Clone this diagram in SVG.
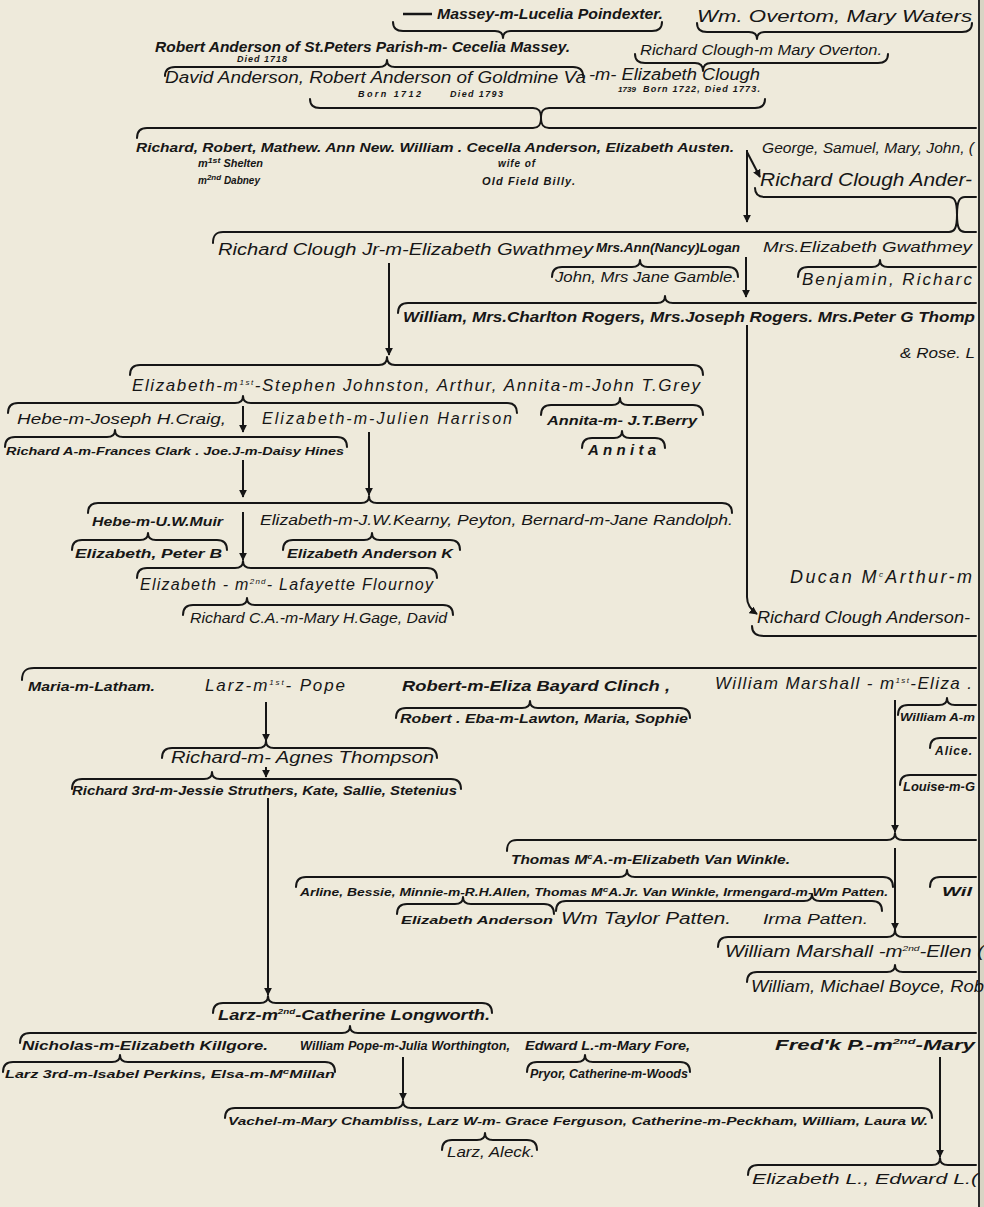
<svg xmlns="http://www.w3.org/2000/svg" width="984" height="1207" viewBox="0 0 984 1207">
<defs>
<marker id="ah" viewBox="0 0 10 10" refX="9" refY="5" markerWidth="8" markerHeight="8" markerUnits="userSpaceOnUse" orient="auto">
<path d="M0,0 L10,5 L0,10 z" fill="#161616"/>
</marker>
<style>
text{font-family:"Liberation Sans",Arial,sans-serif;font-style:italic;fill:#161616}
.b{font-weight:bold}
.s8{font-size:8px}.s9{font-size:9px}.s10{font-size:10px}.s11{font-size:11px}.s12{font-size:12px}.s13{font-size:13px}.s14{font-size:14px}.s15{font-size:15px}.s16{font-size:16px}.s17{font-size:17px}.s18{font-size:18px}.s19{font-size:19px}
.br{fill:none;stroke:#161616;stroke-width:2;stroke-linecap:round;stroke-linejoin:round}
.ar{fill:none;stroke:#161616;stroke-width:2;marker-end:url(#ah)}
.sup{font-size:8px}
</style>
</defs>
<rect width="984" height="1207" fill="#eeeadb"/>
<rect x="980" y="0" width="4" height="1207" fill="#d8d4c4"/>
<line x1="979" y1="0" x2="979" y2="1207" stroke="#2a2a2a" stroke-width="2"/>

<g id="connectors">
<g id="braces">
<path class="br" d="M393,22 C393,28 396,31 403,31 L495,31 C500,31 503,33 503,38 C503,33 506,31 511,31 L652,31 C659,31 662,28 662,22"/>
<path class="br" d="M697,23 C697,29 700,32 707,32 L749,32 C754,32 757,34 757,39 C757,34 760,32 765,32 L962,32 C969,32 972,29 972,23"/>
<path class="br" d="M635,54 C635,60 638,63 645,63 L695,63 C700,63 703,65 703,71 C703,65 706,63 711,63 L878,63 C885,63 888,60 888,54"/>
<path class="br" d="M165,76 C165,70 168,67 175,67 L379,67 C384,67 387,65 387,60 C387,65 390,67 395,67 L573,67 C580,67 583,70 583,76"/>
<path class="br" d="M310,99 C310,105 313,108 320,108 L533,108 C538,108 541,110 541,118 C541,110 544,108 549,108 L755,108 C762,108 765,105 765,99"/>
<path class="br" d="M137,138 C137,131 140,128 147,128 L533,128 C538,128 541,126 541,118 C541,126 544,128 549,128 L976,128"/>
<path class="br" d="M755,188 C755,194 758,197 765,197 L949,197 C954,197 957,200 957,215 C957,200 960,197 965,197 L976,197"/>
<path class="br" d="M213,243 C213,235 216,232 223,232 L949,232 C954,232 957,229 957,215 C957,229 960,232 965,232 L976,232"/>
<path class="br" d="M552,277 C552,270 555,267 562,267 L632,267 C637,267 640,265 640,260 C640,265 643,267 648,267 L728,267 C735,267 738,270 738,277"/>
<path class="br" d="M798,277 C798,270 801,267 808,267 L872,267 C877,267 880,265 880,260 C880,265 883,267 888,267 L976,267"/>
<path class="br" d="M398,313 C398,306 401,303 408,303 L657,303 C662,303 665,301 665,296 C665,301 668,303 673,303 L976,303"/>
<path class="br" d="M130,375 C130,368 133,365 140,365 L379,365 C384,365 387,363 387,357 C387,363 390,365 395,365 L693,365 C700,365 703,368 703,375"/>
<path class="br" d="M8,413 C8,406 11,403 18,403 L235,403 C240,403 243,401 243,396 C243,401 246,403 251,403 L507,403 C514,403 517,406 517,413"/>
<path class="br" d="M541,415 C541,408 544,405 551,405 L612,405 C617,405 620,403 620,398 C620,403 623,405 628,405 L693,405 C700,405 703,408 703,415"/>
<path class="br" d="M582,448 C582,441 585,438 592,438 L614,438 C619,438 622,436 622,431 C622,436 625,438 630,438 L655,438 C662,438 665,441 665,448"/>
<path class="br" d="M5,447 C5,440 8,437 15,437 L107,437 C112,437 115,435 115,430 C115,435 118,437 123,437 L337,437 C344,437 347,440 347,447"/>
<path class="br" d="M88,513 C88,506 91,503 98,503 L361,503 C366,503 369,501 369,496 C369,501 372,503 377,503 L722,503 C729,503 732,506 732,513"/>
<path class="br" d="M72,550 C72,543 75,540 82,540 L140,540 C145,540 148,538 148,533 C148,538 151,540 156,540 L217,540 C224,540 227,543 227,550"/>
<path class="br" d="M283,550 C283,543 286,540 293,540 L364,540 C369,540 372,538 372,533 C372,538 375,540 380,540 L450,540 C457,540 460,543 460,550"/>
<path class="br" d="M137,578 C137,571 140,568 147,568 L235,568 C240,568 243,566 243,561 C243,566 246,568 251,568 L427,568 C434,568 437,571 437,578"/>
<path class="br" d="M183,615 C183,608 186,605 193,605 L239,605 C244,605 247,603 247,598 C247,603 250,605 255,605 L443,605 C450,605 453,608 453,615"/>
<path class="br" d="M752,626 C752,633 756,636 764,636 L976,636"/>
<path class="br" d="M22,680 C22,671 26,668 34,668 L976,668"/>
<path class="br" d="M396,718 C396,711 399,708 406,708 L522,708 C527,708 530,706 530,701 C530,706 533,708 538,708 L680,708 C687,708 690,711 690,718"/>
<path class="br" d="M162,758 C162,751 165,748 172,748 L258,748 C263,748 266,746 266,741 C266,746 269,748 274,748 L427,748 C434,748 437,751 437,758"/>
<path class="br" d="M72,789 C72,782 75,779 82,779 L204,779 C209,779 212,777 212,772 C212,777 215,779 220,779 L451,779 C458,779 461,782 461,789"/>
<path class="br" d="M898,715 C898,708 901,705 908,705 L939,705 C944,705 947,703 947,698 C947,703 950,705 955,705 L976,705"/>
<path class="br" d="M930,748 C930,741 933,738 940,738 L976,738"/>
<path class="br" d="M900,785 C900,778 903,775 910,775 L976,775"/>
<path class="br" d="M507,851 C507,843 510,840 517,840 L887,840 C892,840 895,838 895,833 C895,838 898,840 903,840 L976,840"/>
<path class="br" d="M296,887 C296,880 299,877 306,877 L619,877 C624,877 627,875 627,870 C627,875 630,877 635,877 L883,877 C890,877 893,880 893,887"/>
<path class="br" d="M930,887 C930,880 933,877 940,877 L976,877"/>
<path class="br" d="M397,914 C397,907 400,904 407,904 L455,904 C460,904 463,902 463,897 C463,902 466,904 471,904 L544,904 C551,904 554,907 554,914"/>
<path class="br" d="M556,911 C556,904 559,901 566,901 L804,901 C809,901 812,899 812,894 C812,899 815,901 820,901 L872,901 C879,901 882,904 882,911"/>
<path class="br" d="M718,947 C718,940 721,937 728,937 L887,937 C892,937 895,935 895,930 C895,935 898,937 903,937 L976,937"/>
<path class="br" d="M747,982 C747,975 750,972 757,972 L887,972 C892,972 895,970 895,965 C895,970 898,972 903,972 L976,972"/>
<path class="br" d="M213,1013 C213,1006 216,1003 223,1003 L260,1003 C265,1003 268,1001 268,996 C268,1001 271,1003 276,1003 L482,1003 C489,1003 492,1006 492,1013"/>
<path class="br" d="M20,1043 C20,1036 23,1033 30,1033 L342,1033 C347,1033 350,1031 350,1026 C350,1031 353,1033 358,1033 L976,1033"/>
<path class="br" d="M3,1072 C3,1065 6,1062 13,1062 L112,1062 C117,1062 120,1060 120,1055 C120,1060 123,1062 128,1062 L325,1062 C332,1062 335,1065 335,1072"/>
<path class="br" d="M527,1072 C527,1065 530,1062 537,1062 L577,1062 C582,1062 585,1060 585,1055 C585,1060 588,1062 593,1062 L680,1062 C687,1062 690,1065 690,1072"/>
<path class="br" d="M225,1118 C225,1111 228,1108 235,1108 L395,1108 C400,1108 403,1106 403,1101 C403,1106 406,1108 411,1108 L922,1108 C929,1108 932,1111 932,1118"/>
<path class="br" d="M442,1150 C442,1143 445,1140 452,1140 L477,1140 C482,1140 485,1138 485,1133 C485,1138 488,1140 493,1140 L527,1140 C534,1140 537,1143 537,1150"/>
<path class="br" d="M748,1175 C748,1168 751,1165 758,1165 L932,1165 C937,1165 940,1163 940,1158 C940,1163 943,1165 948,1165 L976,1165"/>
</g>
<g id="arrows">
<path class="ar" d="M747,150 L747,222"/>
<path class="ar" d="M747,152 L760,177"/>
<path class="ar" d="M389,263 L389,355"/>
<path class="ar" d="M746,257 L746,297"/>
<path class="ar" d="M747,325 L747,597 Q747,607 757,614"/>
<path class="ar" d="M243,406 L243,432"/>
<path class="ar" d="M369,432 L369,495"/>
<path class="ar" d="M243,460 L243,497"/>
<path class="ar" d="M243,512 L243,560"/>
<path class="ar" d="M266,702 L266,741"/>
<path class="ar" d="M266,767 L266,777"/>
<path class="ar" d="M268,798 L268,995"/>
<path class="ar" d="M895,700 L895,832"/>
<path class="ar" d="M895,848 L895,930"/>
<path class="ar" d="M403,1057 L403,1100"/>
<path class="ar" d="M940,1057 L940,1157"/>
</g>
</g>

<g id="n-massey"><line x1="403" y1="14" x2="432" y2="14" stroke="#161616" stroke-width="2.5"/><text x="437" y="19" class="s14 b" textLength="226" lengthAdjust="spacingAndGlyphs">Massey-m-Lucelia Poindexter.</text></g>
<g id="n-overtom"><text x="697" y="22" class="s17" textLength="275" lengthAdjust="spacingAndGlyphs">Wm. Overtom, Mary Waters</text></g>
<g id="n-robert-stpeters"><text x="155" y="52" class="s14 b" textLength="415" lengthAdjust="spacingAndGlyphs">Robert Anderson of St.Peters Parish-m- Cecelia Massey.</text><text x="237" y="62" class="s9 b" textLength="50" lengthAdjust="spacing">Died  1718</text></g>
<g id="n-clough-overton"><text x="640" y="55" class="s15" textLength="242" lengthAdjust="spacingAndGlyphs">Richard Clough-m Mary Overton.</text></g>
<g id="n-goldmine"><text x="165" y="83" class="s16" textLength="421" lengthAdjust="spacingAndGlyphs">David Anderson, Robert Anderson of Goldmine Va</text><text x="589" y="80" class="s16" textLength="171" lengthAdjust="spacingAndGlyphs">-m- Elizabeth Clough</text>
<text x="358" y="97" class="s9 b" textLength="63" lengthAdjust="spacing">Born 1712</text><text x="450" y="97" class="s9 b" textLength="53" lengthAdjust="spacing">Died 1793</text><text x="618" y="92" class="s8 b" textLength="18" lengthAdjust="spacing">1739</text><text x="643" y="92" class="s9 b" textLength="117" lengthAdjust="spacing">Born 1722, Died 1773.</text></g>
<g id="n-row4"><text x="136" y="152" class="s13 b" textLength="598" lengthAdjust="spacingAndGlyphs">Richard, Robert, Mathew. Ann New. William . Cecella Anderson, Elizabeth Austen.</text>
<text x="198" y="167" class="s10 b" textLength="65" lengthAdjust="spacingAndGlyphs">m<tspan class="sup" dy="-4">1st</tspan><tspan dy="4"> Shelten</tspan></text>
<text x="198" y="184" class="s10 b" textLength="62" lengthAdjust="spacingAndGlyphs">m<tspan class="sup" dy="-4">2nd</tspan><tspan dy="4"> Dabney</tspan></text>
<text x="498" y="167" class="s10 b" textLength="37" lengthAdjust="spacing">wife of</text><text x="482" y="185" class="s11 b" textLength="93" lengthAdjust="spacing">Old Field Billy.</text></g>
<g id="n-george"><text x="762" y="153" class="s14" textLength="212" lengthAdjust="spacingAndGlyphs">George, Samuel, Mary, John, (</text></g>
<g id="n-rca1"><text x="760" y="186" class="s19" textLength="212" lengthAdjust="spacingAndGlyphs">Richard Clough Ander-</text></g>
<g id="n-rcjr"><text x="218" y="255" class="s16" textLength="375" lengthAdjust="spacingAndGlyphs">Richard Clough Jr-m-Elizabeth Gwathmey</text><text x="596" y="252" class="s12 b" textLength="144" lengthAdjust="spacingAndGlyphs">Mrs.Ann(Nancy)Logan</text></g>
<g id="n-mrs-gwathmey"><text x="763" y="252" class="s15" textLength="209" lengthAdjust="spacingAndGlyphs">Mrs.Elizabeth Gwathmey</text></g>
<g id="n-gamble"><text x="555" y="282" class="s14" textLength="182" lengthAdjust="spacingAndGlyphs">John, Mrs Jane Gamble.</text></g>
<g id="n-benjamin"><text x="802" y="285" class="s17" textLength="170" lengthAdjust="spacing">Benjamin,  Richarc</text></g>
<g id="n-rogers"><text x="403" y="322" class="s14 b" textLength="572" lengthAdjust="spacingAndGlyphs">William, Mrs.Charlton Rogers, Mrs.Joseph  Rogers. Mrs.Peter G Thomp</text></g>
<g id="n-rose"><text x="900" y="358" class="s15" textLength="75" lengthAdjust="spacingAndGlyphs">&amp; Rose. L</text></g>
<g id="n-eliz-johnston"><text x="132" y="391" class="s17" textLength="568" lengthAdjust="spacing">Elizabeth-m<tspan class="sup" dy="-6">1st</tspan><tspan dy="6">-Stephen Johnston, Arthur, Annita-m-John T.Grey</tspan></text></g>
<g id="n-hebe-craig"><text x="17" y="424" class="s15" textLength="209" lengthAdjust="spacingAndGlyphs">Hebe-m-Joseph H.Craig,</text></g>
<g id="n-eliz-harrison"><text x="262" y="424" class="s16" textLength="250" lengthAdjust="spacing">Elizabeth-m-Julien Harrison</text></g>
<g id="n-annita-berry"><text x="547" y="425" class="s13 b" textLength="150" lengthAdjust="spacingAndGlyphs">Annita-m- J.T.Berry</text></g>
<g id="n-annita"><text x="588" y="455" class="s15 b" textLength="68" lengthAdjust="spacing">Annita</text></g>
<g id="n-richard-a"><text x="6" y="455" class="s11 b" textLength="338" lengthAdjust="spacingAndGlyphs">Richard A-m-Frances Clark . Joe.J-m-Daisy Hines</text></g>
<g id="n-hebe-muir"><text x="92" y="526" class="s13 b" textLength="131" lengthAdjust="spacingAndGlyphs">Hebe-m-U.W.Muir</text></g>
<g id="n-kearny"><text x="260" y="525" class="s14" textLength="473" lengthAdjust="spacingAndGlyphs">Elizabeth-m-J.W.Kearny, Peyton, Bernard-m-Jane Randolph.</text></g>
<g id="n-peter-b"><text x="75" y="558" class="s13 b" textLength="147" lengthAdjust="spacingAndGlyphs">Elizabeth, Peter B</text></g>
<g id="n-eak"><text x="287" y="558" class="s13 b" textLength="166" lengthAdjust="spacingAndGlyphs">Elizabeth Anderson K</text></g>
<g id="n-flournoy"><text x="140" y="590" class="s16" textLength="293" lengthAdjust="spacing">Elizabeth - m<tspan class="sup" dy="-6">2nd</tspan><tspan dy="6">- Lafayette Flournoy</tspan></text></g>
<g id="n-gage"><text x="190" y="623" class="s14" textLength="257" lengthAdjust="spacingAndGlyphs">Richard C.A.-m-Mary H.Gage, David</text></g>
<g id="n-mcarthur"><text x="790" y="583" class="s18" textLength="182" lengthAdjust="spacing">Ducan  M<tspan class="sup" dy="-6">c</tspan><tspan dy="6">Arthur-m</tspan></text></g>
<g id="n-rca2"><text x="757" y="623" class="s16" textLength="213" lengthAdjust="spacingAndGlyphs">Richard Clough Anderson-</text></g>
<g id="n-maria"><text x="28" y="691" class="s12 b" textLength="127" lengthAdjust="spacingAndGlyphs">Maria-m-Latham.</text></g>
<g id="n-larz-pope"><text x="205" y="691" class="s17" textLength="140" lengthAdjust="spacing">Larz-m<tspan class="sup" dy="-6">1st</tspan><tspan dy="6">- Pope</tspan></text></g>
<g id="n-clinch"><text x="402" y="691" class="s14 b" textLength="268" lengthAdjust="spacingAndGlyphs">Robert-m-Eliza Bayard Clinch ,</text></g>
<g id="n-wm-marshall1"><text x="715" y="689" class="s17" textLength="257" lengthAdjust="spacing">William Marshall - m<tspan class="sup" dy="-6">1st</tspan><tspan dy="6">-Eliza .</tspan></text></g>
<g id="n-eba"><text x="400" y="723" class="s13 b" textLength="288" lengthAdjust="spacingAndGlyphs">Robert . Eba-m-Lawton, Maria, Sophie</text></g>
<g id="n-agnes"><text x="171" y="763" class="s17" textLength="263" lengthAdjust="spacingAndGlyphs">Richard-m- Agnes Thompson</text></g>
<g id="n-richard3"><text x="72" y="795" class="s13 b" textLength="385" lengthAdjust="spacingAndGlyphs">Richard 3rd-m-Jessie Struthers, Kate, Sallie, Stetenius</text></g>
<g id="n-william-a"><text x="900" y="721" class="s11 b" textLength="75" lengthAdjust="spacingAndGlyphs">William A-m</text></g>
<g id="n-alice"><text x="935" y="755" class="s12 b" textLength="37" lengthAdjust="spacing">Alice.</text></g>
<g id="n-louise"><text x="903" y="791" class="s12 b" textLength="72" lengthAdjust="spacingAndGlyphs">Louise-m-G</text></g>
<g id="n-thomas"><text x="511" y="864" class="s13 b" textLength="279" lengthAdjust="spacingAndGlyphs">Thomas M<tspan class="sup" dy="-5">c</tspan><tspan dy="5">A.-m-Elizabeth Van Winkle.</tspan></text></g>
<g id="n-arline"><text x="300" y="896" class="s11 b" textLength="588" lengthAdjust="spacingAndGlyphs">Arline, Bessie, Minnie-m-R.H.Allen, Thomas M<tspan class="sup" dy="-4">c</tspan><tspan dy="4">A.Jr. Van Winkle, Irmengard-m-Wm Patten.</tspan></text></g>
<g id="n-wil"><text x="942" y="896" class="s12 b" textLength="30" lengthAdjust="spacingAndGlyphs">Wil</text></g>
<g id="n-eliz-anderson"><text x="401" y="924" class="s11 b" textLength="152" lengthAdjust="spacingAndGlyphs">Elizabeth Anderson</text></g>
<g id="n-pattens"><text x="561" y="924" class="s16" textLength="170" lengthAdjust="spacingAndGlyphs">Wm Taylor Patten.</text><text x="763" y="924" class="s15" textLength="105" lengthAdjust="spacingAndGlyphs">Irma Patten.</text></g>
<g id="n-wm-marshall2"><text x="725" y="957" class="s16" textLength="259" lengthAdjust="spacingAndGlyphs">William Marshall -m<tspan class="sup" dy="-6">2nd</tspan><tspan dy="6">-Ellen (</tspan></text></g>
<g id="n-boyce"><text x="751" y="992" class="s16" textLength="233" lengthAdjust="spacingAndGlyphs">William, Michael Boyce, Rob</text></g>
<g id="n-larz-longworth"><text x="218" y="1020" class="s15 b" textLength="272" lengthAdjust="spacingAndGlyphs">Larz-m<tspan class="sup" dy="-6">2nd</tspan><tspan dy="6">-Catherine Longworth.</tspan></text></g>
<g id="n-nicholas"><text x="22" y="1050" class="s13 b" textLength="246" lengthAdjust="spacingAndGlyphs">Nicholas-m-Elizabeth Killgore.</text></g>
<g id="n-pope"><text x="300" y="1050" class="s12 b" textLength="210" lengthAdjust="spacingAndGlyphs">William Pope-m-Julia Worthington,</text></g>
<g id="n-edward"><text x="525" y="1050" class="s12 b" textLength="165" lengthAdjust="spacingAndGlyphs">Edward L.-m-Mary Fore,</text></g>
<g id="n-fredk"><text x="775" y="1050" class="s14 b" textLength="200" lengthAdjust="spacingAndGlyphs">Fred'k P.-m<tspan class="sup" dy="-6">2nd</tspan><tspan dy="6">-Mary</tspan></text></g>
<g id="n-larz3"><text x="5" y="1078" class="s11 b" textLength="330" lengthAdjust="spacingAndGlyphs">Larz 3rd-m-Isabel Perkins, Elsa-m-M<tspan class="sup" dy="-4">c</tspan><tspan dy="4">Millan</tspan></text></g>
<g id="n-pryor"><text x="530" y="1078" class="s12 b" textLength="158" lengthAdjust="spacingAndGlyphs">Pryor, Catherine-m-Woods</text></g>
<g id="n-vachel"><text x="228" y="1125" class="s11 b" textLength="700" lengthAdjust="spacingAndGlyphs">Vachel-m-Mary Chambliss, Larz W-m- Grace Ferguson, Catherine-m-Peckham, William, Laura W.</text></g>
<g id="n-larz-aleck"><text x="447" y="1157" class="s15" textLength="88" lengthAdjust="spacingAndGlyphs">Larz, Aleck.</text></g>
<g id="n-eliz-l"><text x="752" y="1184" class="s15" textLength="226" lengthAdjust="spacingAndGlyphs">Elizabeth L., Edward L.(</text></g>
</svg>
